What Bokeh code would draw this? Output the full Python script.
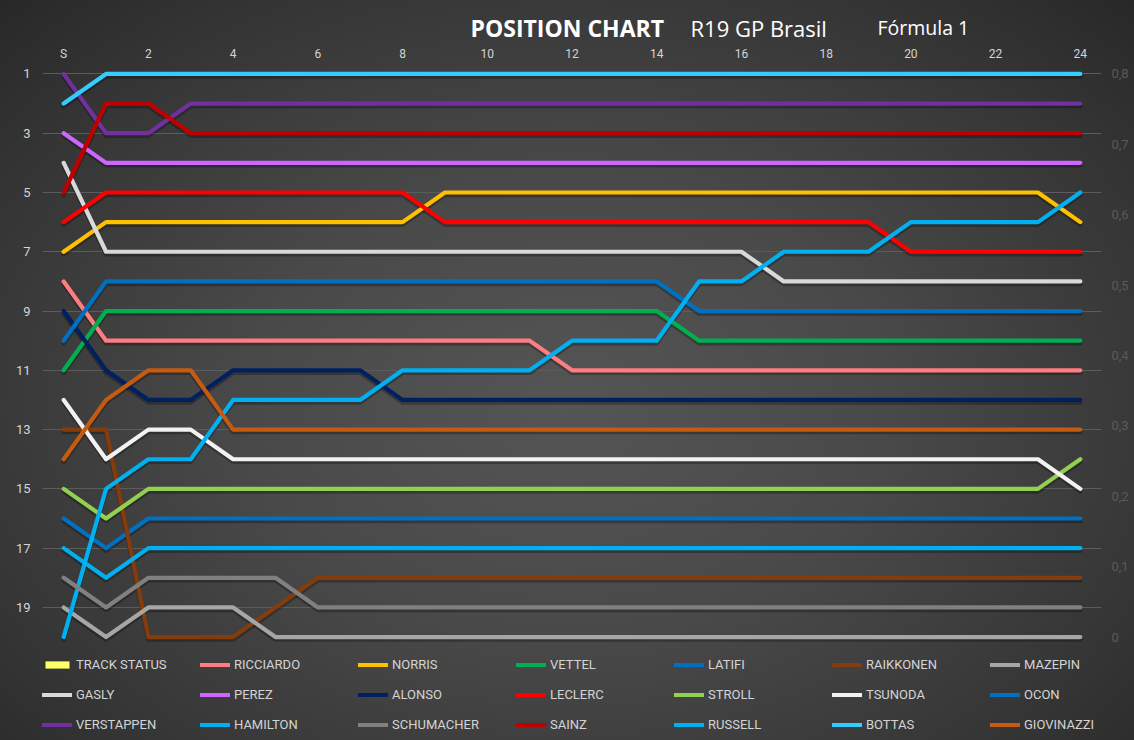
from bokeh.plotting import figure
from bokeh.models import (Range1d, LinearAxis, FixedTicker, CustomJSTickFormatter,
                          Legend, LegendItem)
from bokeh.core.properties import value
from bokeh.embed import file_html
from bokeh.resources import INLINE

# ---------------- data ----------------
LAPS = [0, 1, 2, 3, 4, 5, 6, 7, 8, 9, 10, 11, 12, 13, 14, 15, 16, 17, 18, 19, 20, 21, 22, 23, 24]
LAP_TICKS = [0, 2, 4, 6, 8, 10, 12, 14, 16, 18, 20, 22, 24]
LAP_TICK_LABELS = ["S", "2", "4", "6", "8", "10", "12", "14", "16", "18", "20", "22", "24"]
POS_TICKS = [1, 3, 5, 7, 9, 11, 13, 15, 17, 19]
SEC_TICKS = [0, 0.1, 0.2, 0.3, 0.4, 0.5, 0.6, 0.7, 0.8]

TITLE_MAIN = "POSITION CHART"
TITLE_RACE = "R19 GP Brasil"
TITLE_SERIES = "Fórmula 1"

TRACK_STATUS = [0, 0, 0, 0, 0, 0, 0, 0, 0, 0, 0, 0, 0, 0, 0, 0, 0, 0, 0, 0, 0, 0, 0, 0, 0]
RICCIARDO = [8, 10, 10, 10, 10, 10, 10, 10, 10, 10, 10, 10, 11, 11, 11, 11, 11, 11, 11, 11, 11, 11, 11, 11, 11]
NORRIS = [7, 6, 6, 6, 6, 6, 6, 6, 6, 5, 5, 5, 5, 5, 5, 5, 5, 5, 5, 5, 5, 5, 5, 5, 6]
VETTEL = [11, 9, 9, 9, 9, 9, 9, 9, 9, 9, 9, 9, 9, 9, 9, 10, 10, 10, 10, 10, 10, 10, 10, 10, 10]
LATIFI = [16, 17, 16, 16, 16, 16, 16, 16, 16, 16, 16, 16, 16, 16, 16, 16, 16, 16, 16, 16, 16, 16, 16, 16, 16]
RAIKKONEN = [13, 13, 20, 20, 20, 19, 18, 18, 18, 18, 18, 18, 18, 18, 18, 18, 18, 18, 18, 18, 18, 18, 18, 18, 18]
MAZEPIN = [19, 20, 19, 19, 19, 20, 20, 20, 20, 20, 20, 20, 20, 20, 20, 20, 20, 20, 20, 20, 20, 20, 20, 20, 20]
GASLY = [4, 7, 7, 7, 7, 7, 7, 7, 7, 7, 7, 7, 7, 7, 7, 7, 7, 8, 8, 8, 8, 8, 8, 8, 8]
PEREZ = [3, 4, 4, 4, 4, 4, 4, 4, 4, 4, 4, 4, 4, 4, 4, 4, 4, 4, 4, 4, 4, 4, 4, 4, 4]
ALONSO = [9, 11, 12, 12, 11, 11, 11, 11, 12, 12, 12, 12, 12, 12, 12, 12, 12, 12, 12, 12, 12, 12, 12, 12, 12]
LECLERC = [6, 5, 5, 5, 5, 5, 5, 5, 5, 6, 6, 6, 6, 6, 6, 6, 6, 6, 6, 6, 7, 7, 7, 7, 7]
STROLL = [15, 16, 15, 15, 15, 15, 15, 15, 15, 15, 15, 15, 15, 15, 15, 15, 15, 15, 15, 15, 15, 15, 15, 15, 14]
TSUNODA = [12, 14, 13, 13, 14, 14, 14, 14, 14, 14, 14, 14, 14, 14, 14, 14, 14, 14, 14, 14, 14, 14, 14, 14, 15]
OCON = [10, 8, 8, 8, 8, 8, 8, 8, 8, 8, 8, 8, 8, 8, 8, 9, 9, 9, 9, 9, 9, 9, 9, 9, 9]
VERSTAPPEN = [1, 3, 3, 2, 2, 2, 2, 2, 2, 2, 2, 2, 2, 2, 2, 2, 2, 2, 2, 2, 2, 2, 2, 2, 2]
HAMILTON = [20, 15, 14, 14, 12, 12, 12, 12, 11, 11, 11, 11, 10, 10, 10, 8, 8, 7, 7, 7, 6, 6, 6, 6, 5]
SCHUMACHER = [18, 19, 18, 18, 18, 18, 19, 19, 19, 19, 19, 19, 19, 19, 19, 19, 19, 19, 19, 19, 19, 19, 19, 19, 19]
SAINZ = [5, 2, 2, 3, 3, 3, 3, 3, 3, 3, 3, 3, 3, 3, 3, 3, 3, 3, 3, 3, 3, 3, 3, 3, 3]
RUSSELL = [17, 18, 17, 17, 17, 17, 17, 17, 17, 17, 17, 17, 17, 17, 17, 17, 17, 17, 17, 17, 17, 17, 17, 17, 17]
BOTTAS = [2, 1, 1, 1, 1, 1, 1, 1, 1, 1, 1, 1, 1, 1, 1, 1, 1, 1, 1, 1, 1, 1, 1, 1, 1]
GIOVINAZZI = [14, 12, 11, 11, 13, 13, 13, 13, 13, 13, 13, 13, 13, 13, 13, 13, 13, 13, 13, 13, 13, 13, 13, 13, 13]

DRIVERS = [
    ("RICCIARDO", RICCIARDO, "#ff7c80"),
    ("NORRIS", NORRIS, "#ffc000"),
    ("VETTEL", VETTEL, "#00b050"),
    ("LATIFI", LATIFI, "#0070c0"),
    ("RAIKKONEN", RAIKKONEN, "#843c0c"),
    ("MAZEPIN", MAZEPIN, "#a6a6a6"),
    ("GASLY", GASLY, "#d9d9d9"),
    ("PEREZ", PEREZ, "#cc66ff"),
    ("ALONSO", ALONSO, "#002060"),
    ("LECLERC", LECLERC, "#ff0000"),
    ("STROLL", STROLL, "#92d050"),
    ("TSUNODA", TSUNODA, "#f2f2f2"),
    ("OCON", OCON, "#0070c0"),
    ("VERSTAPPEN", VERSTAPPEN, "#7030a0"),
    ("HAMILTON", HAMILTON, "#00b0f0"),
    ("SCHUMACHER", SCHUMACHER, "#808080"),
    ("SAINZ", SAINZ, "#c00000"),
    ("RUSSELL", RUSSELL, "#00b0f0"),
    ("BOTTAS", BOTTAS, "#33ccff"),
    ("GIOVINAZZI", GIOVINAZZI, "#c55a11"),
]

UI_FONT = "Roboto"
LABEL_COLOR = "#d4d4d4"

# ---------------- figure ----------------
# The frame reaches the bottom of the page so that the legend sits inside it.
Y_TOP = 0.85
Y_BOTTOM = 23.49
FRAME_H = 671
p = figure(frame_width=1059, frame_height=FRAME_H,
           min_border_left=42, min_border_right=33, min_border_top=69, min_border_bottom=0,
           x_range=Range1d(-0.5, 24.5), y_range=Range1d(Y_BOTTOM, Y_TOP),
           x_axis_location="above", y_axis_location="left",
           output_backend="svg", toolbar_location=None, tools="")
p.styles = {"background": "radial-gradient(ellipse at 50% 55%, #555555 0%, #494949 40%, #343434 80%, #282828 100%)"}
p.border_fill_alpha = 0
p.background_fill_alpha = 0
p.outline_line_color = None

# secondary axis: 0 at position 20, 0.8 at position 1
def to_sec(pos):
    return (20 - pos) * 0.8 / 19

# a copy of the position range shifted by ~2.5 px, used for the lines' drop shadows
SHADOW_SHIFT = 2.5 * (Y_BOTTOM - Y_TOP) / FRAME_H
p.extra_y_ranges = {"sec": Range1d(to_sec(Y_BOTTOM), to_sec(Y_TOP)),
                    "shadow": Range1d(Y_BOTTOM - SHADOW_SHIFT, Y_TOP - SHADOW_SHIFT)}

def style_axis(ax, color, size, standoff):
    ax.axis_line_color = None
    ax.major_tick_line_color = None
    ax.minor_tick_line_color = None
    ax.major_tick_out = 0
    ax.major_tick_in = 0
    ax.minor_tick_out = 0
    ax.major_label_text_color = color
    ax.major_label_text_font = UI_FONT
    ax.major_label_text_font_size = size
    ax.major_label_standoff = standoff

xa = p.xaxis[0]
xa.ticker = FixedTicker(ticks=LAP_TICKS)
xa.major_label_overrides = {t: l for t, l in zip(LAP_TICKS, LAP_TICK_LABELS)}
style_axis(xa, LABEL_COLOR, "12px", 9)

ya = p.yaxis[0]
ya.ticker = FixedTicker(ticks=POS_TICKS)
style_axis(ya, LABEL_COLOR, "13px", 12)

ra = LinearAxis(y_range_name="sec", ticker=FixedTicker(ticks=SEC_TICKS),
                formatter=CustomJSTickFormatter(code='return tick == 0 ? "0" : tick.toFixed(1).replace(".", ",");'))
style_axis(ra, "#5a5a5a", "13px", 10)
p.add_layout(ra, "right")

p.xgrid.grid_line_color = None
p.ygrid.grid_line_color = "#5c5c5c"
p.ygrid.grid_line_width = 1

# ---------------- series ----------------
items = []
ts = p.vbar(x=LAPS, top=TRACK_STATUS, width=0.8, y_range_name="sec",
            fill_color="#ffff66", line_color=None)
items.append(LegendItem(label="TRACK STATUS", renderers=[ts]))

for name, vals, col in DRIVERS:
    p.line(LAPS, vals, y_range_name="shadow", line_color="#000000", line_alpha=0.28,
           line_width=4.5, line_cap="round", line_join="round")

for name, vals, col in DRIVERS:
    r = p.line(LAPS, vals, line_color=col, line_width=4.2, line_cap="round", line_join="round")
    items.append(LegendItem(label=name, renderers=[r]))

# ---------------- legend (3 rows x 7 cols) at the bottom of the frame ----------------
lg = Legend(items=items, orientation="horizontal", ncols=7,
            location=(0, 1),
            glyph_width=30, glyph_height=9, label_standoff=4, label_width=124,
            label_height=30, spacing=0, padding=0, margin=0,
            background_fill_alpha=0, border_line_color=None,
            label_text_color=LABEL_COLOR, label_text_font=UI_FONT,
            label_text_font_size="13px")
p.add_layout(lg, "center")

# ---------------- title (drawn unclipped, anchored at the frame's top-left corner) ----------------
x0 = p.x_range.start
y0 = p.y_range.end
p.text(x=[x0], y=[y0], text=[TITLE_MAIN], x_offset=428, y_offset=-42,
       text_font=value("Open Sans"), text_font_style=value("bold"), text_font_size=value("23px"),
       text_color="#ffffff", text_baseline="alphabetic", level="overlay")
p.text(x=[x0], y=[y0], text=[TITLE_RACE], x_offset=648, y_offset=-42,
       text_font=value("Open Sans"), text_font_size=value("22px"),
       text_color="#ffffff", text_baseline="alphabetic", level="overlay")
p.text(x=[x0], y=[y0], text=[TITLE_SERIES], x_offset=835, y_offset=-42,
       text_font=value("Open Sans"), text_font_size=value("19.5px"),
       text_color="#ffffff", text_baseline="alphabetic", level="overlay")

open("out.html", "w").write(file_html(p, INLINE))
